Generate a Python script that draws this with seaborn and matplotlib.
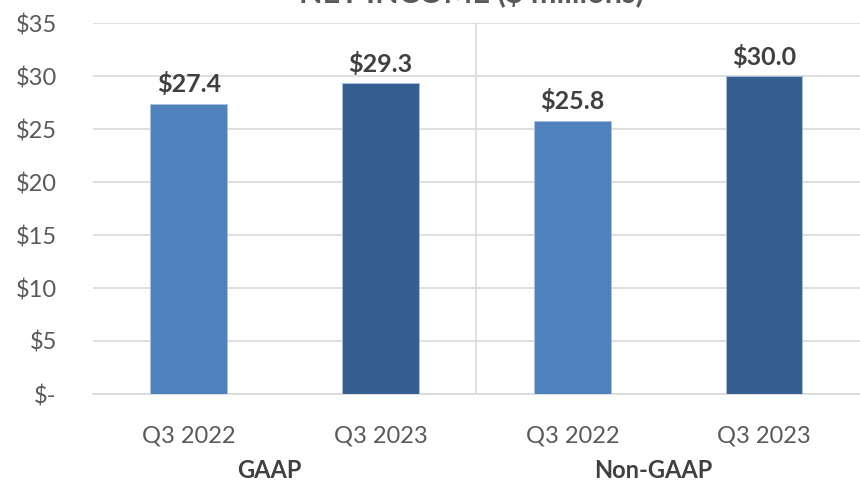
import matplotlib
matplotlib.use("Agg")
import matplotlib.pyplot as plt
import seaborn as sns
import pandas as pd

# Net income, $ millions
groups = ["GAAP", "GAAP", "Non-GAAP", "Non-GAAP"]
periods = ["Q3 2022", "Q3 2023", "Q3 2022", "Q3 2023"]
values = [27.4, 29.3, 25.8, 30.0]
y_ticks = [0, 5, 10, 15, 20, 25, 30, 35]
y_tick_labels = ["$-", "$5", "$10", "$15", "$20", "$25", "$30", "$35"]
group_names = ["GAAP", "Non-GAAP"]

df = pd.DataFrame({
    "key": [f"{g} {p}" for g, p in zip(groups, periods)],
    "group": groups,
    "period": periods,
    "value": values,
})

sns.set_theme(style="white")
plt.rcParams["font.family"] = ["Lato", "DejaVu Sans"]

text_gray = "#595959"
grid_gray = "#d9d9d9"
palette = {"Q3 2022": "#4f81bd", "Q3 2023": "#365f91"}

fig = plt.figure(figsize=(8.6, 4.86), dpi=100)
ax = fig.add_axes([0.108, 1 - 394 / 486, 0.892, 371 / 486])

sns.barplot(data=df, x="key", y="value", hue="period", palette=palette,
            dodge=False, width=0.4, saturation=1, legend=False, ax=ax,
            edgecolor="#a9c1e0", linewidth=0.6, zorder=3)

ax.set_ylim(0, 35)
ax.set_xlim(-0.5, len(values) - 0.5)
ax.set_yticks(y_ticks)
ax.set_yticklabels(y_tick_labels, fontsize=17, color=text_gray)
ax.set_xticks(range(len(values)))
ax.set_xticklabels(periods, fontsize=17, color=text_gray)
ax.tick_params(axis="y", length=0, pad=26)
ax.tick_params(axis="x", length=0, pad=23)
ax.set_xlabel("")
ax.set_ylabel("")

ax.yaxis.grid(True, color=grid_gray, linewidth=1.2, zorder=0)
for s in ["top", "right", "left"]:
    ax.spines[s].set_visible(False)
ax.spines["bottom"].set_color(grid_gray)
ax.spines["bottom"].set_linewidth(1.2)

# separator between GAAP and Non-GAAP
ax.axvline(1.5, color=grid_gray, linewidth=1.2, zorder=1)

# value labels
for i, v in enumerate(values):
    ax.text(i, v + 0.7, f"${v:.1f}", ha="center", va="bottom",
            fontsize=18, fontweight="bold", color="#404040")

# group labels under the ticks
for j, name in enumerate(group_names):
    ax.text(2 * j + 0.5 - 0.08, -0.205, name, transform=ax.get_xaxis_transform(),
            ha="center", va="center", fontsize=17, fontweight="bold",
            color="#404040")

# title, running off the top edge
fig.text(0.548, 1 - 2 / 486, "NET INCOME ($ millions)", ha="center",
         va="baseline", fontsize=22, fontweight="bold", color=text_gray)

fig.savefig("out.png", dpi=100)
